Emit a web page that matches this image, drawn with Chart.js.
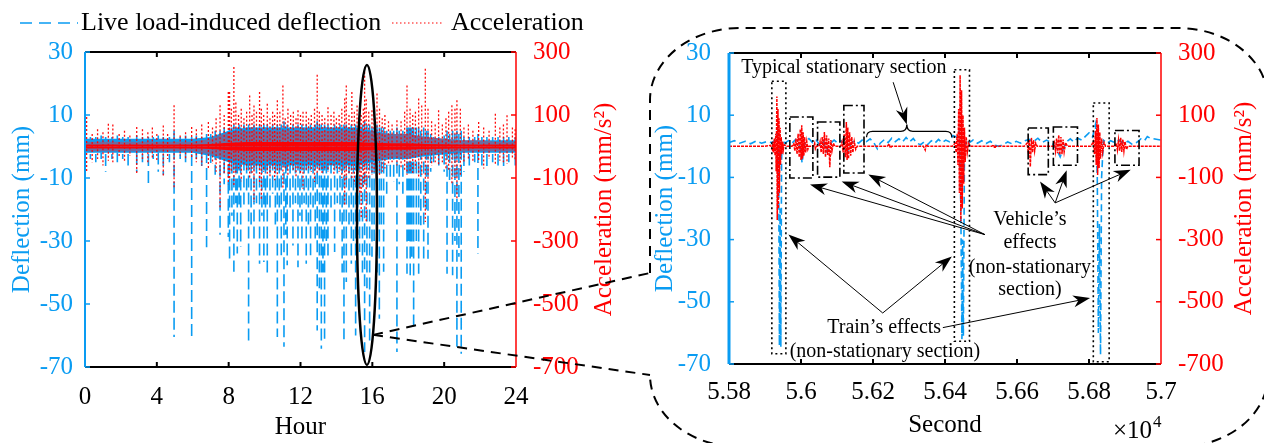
<!DOCTYPE html>
<html><head><meta charset="utf-8">
<script src="https://cdn.jsdelivr.net/npm/chart.js@4.4.1/dist/chart.umd.min.js"></script>
<style>
html,body{margin:0;padding:0;background:#fff;width:1264px;height:443px;overflow:hidden;}
#c1{position:absolute;left:0;top:0;}
#c2{position:absolute;left:640px;top:0;}
#ov{position:absolute;left:0;top:0;pointer-events:none;}
</style></head><body>
<canvas id="c1" width="640" height="443"></canvas>
<canvas id="c2" width="624" height="443"></canvas>
<canvas id="ov" width="1264" height="443"></canvas>
<script>
// ---------------- DATA ----------------
// Left panel (24 h record)
const leftXTicks = [0, 4, 8, 12, 16, 20, 24];
const leftXTickLabels = ['0', '4', '8', '12', '16', '20', '24'];
const deflTicks = [-70, -50, -30, -10, 10, 30];
const deflTickLabels = ['-70', '-50', '-30', '-10', '10', '30'];
const accTicks = [-700, -500, -300, -100, 100, 300];
const accTickLabels = ['-700', '-500', '-300', '-100', '100', '300'];

// deflection spikes (hour, peak-low mm, peak-high mm)
const lDefH  = [0.30,0.60,0.90,1.15,1.50,1.80,2.10,2.40,2.88,3.20,3.53,3.80,4.08,4.36,4.70,4.96,5.30,5.60,5.94,6.20,6.50,6.77,7.00,7.25,7.52,7.75,7.98,
  8.05,8.18,8.29,8.40,8.48,8.58,8.67,8.85,9.00,9.11,9.25,9.41,9.55,9.72,9.85,9.96,10.05,10.15,10.30,10.45,10.60,10.71,10.82,10.93,11.08,11.18,11.26,11.42,11.58,11.72,11.86,11.97,
  12.08,12.20,12.32,12.44,12.56,12.70,12.82,12.93,13.05,13.16,13.25,13.34,13.44,13.53,13.70,13.90,14.05,14.20,14.32,14.42,14.55,14.70,14.83,14.95,15.07,15.18,15.29,15.45,15.57,15.70,15.85,15.98,
  16.10,16.26,16.39,16.50,16.63,16.80,17.00,17.19,17.37,17.50,17.70,17.93,18.02,18.11,18.20,18.30,18.45,18.58,18.70,18.86,19.00,19.10,19.25,19.41,19.70,20.00,
  20.16,20.30,20.47,20.60,20.71,20.82,20.95,21.10,21.40,21.70,21.88,22.10,22.38,22.70,23.00,23.31,23.60,23.96];
const lDefLo = [-4,-5,-4,-8,-4,-5,-4,-6,-8,-5,-13,-4,-8,-9,-5,-60.5,-4,-5,-60.5,-4,-7.6,-32,-6,-9,-28,-12,-28.7,
  -36.7,-22,-39.8,-18,-34,-20,-31.9,-20,-15,-62,-25,-29.8,-18,-37.2,-22,-36.7,-20,-40.4,-20,-15,-25,-60.5,-20,-34.5,-63.6,-28,-37.7,-20,-31.4,-18,-38.3,-22,
  -30.3,-18,-37.2,-25,-34.5,-20,-30,-58.4,-45,-64.2,-40,-61,-30,-35.6,-20,-33.5,-18,-25,-40,-61.2,-43,-25,-37.2,-30,-60,-28,-33.5,-40,-65.2,-45,-63,-35,
  -30,-40.4,-54.7,-25,-39.8,-15,-10,-11.3,-65.2,-12,-15,-40.4,-30,-40.9,-35,-57.8,-30,-40.4,-25,-35.6,-20,-35.6,-8,-5,-6,-8,
  -40.4,-12,-40.9,-30,-63.6,-35,-65.8,-8,-6,-5,-34,-6,-7,-5,-6,-7,-5,-6];
const lDefHi = [3,3,3.5,3,3,3.5,3,3,3.5,3,3,3,3.5,3,3,5,3,3.5,3,3.5,3,4,4,5,5,6,5,
  6,6,7,6,6,7,6,7,6,7,6,7,6,7,6,7,6,7,6,7,6,7,6,7,8,6,7,6,7,6,7,6,
  7,6,7,6,7,6,7,8,7,7,6,7,6,7,6,7,6,7,6,7,7,6,7,6,7,6,7,7,8,7,7,6,
  6,7,6,6,6,5,5,5,6,5,5,6,6,6,6,6,6,6,5,6,5,5,4,3,3,3.5,
  5,4,5,4,5,4,5,3,3,3,4,3,3,3,3,3,3,3];

// acceleration spikes (hour, peak-high mm/s^2, peak-low mm/s^2)
const lAccH  = [0.09,0.40,0.70,1.00,1.30,1.55,1.90,2.20,2.50,2.88,3.20,3.50,3.75,4.00,4.36,4.60,4.96,5.30,5.60,5.94,6.20,6.50,6.87,7.10,7.30,7.52,7.75,7.98,
  8.05,8.15,8.29,8.40,8.55,8.70,8.85,9.00,9.17,9.30,9.41,9.55,9.72,9.82,9.95,10.15,10.30,10.45,10.56,10.71,10.85,11.02,11.15,11.30,11.45,11.60,11.75,11.86,
  12.00,12.14,12.32,12.45,12.60,12.78,12.93,13.05,13.20,13.35,13.53,13.70,13.86,14.00,14.15,14.30,14.46,14.55,14.70,14.86,15.00,15.15,15.30,15.38,15.50,15.57,15.66,15.80,15.98,
  16.10,16.26,16.40,16.55,16.70,16.90,17.10,17.37,17.60,17.80,17.93,18.10,18.25,18.40,18.58,18.75,18.95,19.10,19.30,19.50,19.69,19.90,
  20.10,20.25,20.43,20.60,20.71,20.90,21.10,21.35,21.60,21.92,22.20,22.50,22.85,23.10,23.30,23.50,23.80,23.95];
const lAccHi = [94,40,55,45,72,70,40,50,35,62,55,45,60,40,67,40,131,35,45,62,55,70,78,60,90,131,100,173,
  173,120,252,140,100,120,90,110,162,100,130,110,173,120,100,136,90,110,100,147,110,194,90,120,100,110,90,115,
  100,110,110,90,100,120,228,110,100,90,125,100,110,90,100,120,152,194,100,173,110,130,140,100,120,237,150,110,115,
  100,168,120,90,100,80,70,83,80,110,194,120,100,110,152,130,247,120,80,70,115,70,
  90,110,131,120,147,120,60,70,50,78,60,50,104,60,70,99,60,55];
const lAccLo = [-81,-50,-40,-60,-45,-50,-35,-45,-30,-86,-40,-50,-35,-45,-92,-40,-134,-30,-40,-40,-50,-60,-70,-55,-80,-197,-90,-120,
  -100,-80,-123,-90,-70,-110,-60,-80,-100,-90,-176,-70,-120,-166,-80,-90,-100,-70,-107,-90,-80,-134,-70,-90,-60,-80,-100,-70,
  -90,-134,-80,-70,-80,-113,-90,-80,-90,-70,-80,-60,-90,-70,-80,-100,-187,-110,-90,-100,-120,-90,-150,-229,-130,-120,-240,-100,-90,
  -80,-102,-90,-80,-70,-60,-50,-60,-70,-80,-90,-80,-90,-70,-100,-90,-240,-110,-60,-50,-60,-50,
  -70,-80,-120,-100,-166,-90,-50,-40,-45,-50,-70,-40,-60,-45,-50,-55,-40,-45];

// dense background envelopes, one value per hour (0..24)
const bandHours  = [0,1,2,3,4,5,6,7,8,9,10,11,12,13,14,15,16,17,18,19,20,21,22,23,24];
const defBandHi  = [2.5,2.5,2.5,2.5,2.5,2.5,2.5,3,5,6,6,6,6,6,6,6,5,4,4,3,2.5,2,2,2,2];
const defBandLo  = [-2,-2,-2,-2,-2,-2,-2,-3,-5,-6,-6,-6,-6,-6,-6,-6,-5,-4,-4,-3,-2.5,-2,-2,-2,-2];
const accCoreHi  = [6,6,6,6,6,6,6,8,12,14,14,14,14,14,14,14,12,10,10,8,7,6,6,6,6];
const accCoreLo  = [-6,-6,-6,-6,-6,-6,-6,-8,-12,-14,-14,-14,-14,-14,-14,-14,-12,-10,-10,-8,-7,-6,-6,-6,-6];
const accHaloHi  = [15,15,15,15,15,15,15,25,45,50,50,50,50,50,50,50,45,40,40,30,25,20,20,15,15];
const accHaloLo  = [-15,-15,-15,-15,-15,-15,-15,-25,-40,-45,-45,-45,-45,-45,-45,-45,-40,-35,-35,-25,-20,-15,-15,-15,-15];

// Right panel (seconds x 10^4)
const rightXTicks = [5.58, 5.60, 5.62, 5.64, 5.66, 5.68, 5.70];
const rightXTickLabels = ['5.58', '5.6', '5.62', '5.64', '5.66', '5.68', '5.7'];

const rDefX = [5.5800,5.5815,5.5830,5.5845,5.5860,5.5875,5.5890,5.5905,5.5918,5.5930,5.5935,5.5938,5.5940,5.5942,5.5944,5.5946,5.5948,5.5955,5.5965,5.5975,5.5985,5.5995,5.6000,5.6003,5.6007,5.6012,
  5.6022,5.6032,5.6042,5.6052,5.6062,5.6070,5.6080,5.6092,5.6102,5.6112,5.6122,5.6130,5.6138,5.6148,5.6160,5.6172,5.6182,5.6192,5.6202,5.6212,5.6220,5.6232,5.6242,5.6252,5.6262,5.6272,5.6282,5.6292,5.6302,5.6312,5.6322,5.6332,5.6342,5.6352,5.6362,5.6372,5.6382,5.6392,5.6402,5.6412,5.6422,5.6432,5.6440,5.6444,5.6447,5.6449,5.6451,5.6454,5.6458,
  5.6468,5.6478,5.6490,5.6502,5.6514,5.6526,5.6538,5.6550,5.6562,5.6574,5.6586,5.6598,5.6610,5.6622,5.6634,5.6646,5.6658,5.6670,5.6682,5.6692,5.6702,5.6712,5.6720,5.6728,5.6738,5.6748,5.6758,5.6768,5.6780,5.6790,5.6800,5.6810,5.6818,5.6823,5.6826,5.6829,5.6832,5.6835,5.6840,
  5.6850,5.6860,5.6872,5.6884,5.6896,5.6908,5.6920,5.6932,5.6944,5.6954,5.6962,5.6970,5.7000];
const rDefY = [1.2,1.8,1.0,1.6,0.8,1.7,1.0,1.5,1.2,2.0,5.0,-3,-64,-20,-64.5,-4,2,1.0,1.8,1.0,2.2,0.5,-2,-5.4,-1,1.5,
  2.5,1.2,2.0,0.5,1.8,-1.7,0.8,2.0,1.0,1.8,0.5,-2.0,0.8,1.8,1.0,2.2,1.5,2.4,1.2,-0.8,1.0,2.2,1.2,2.6,1.5,2.4,1.4,2.8,1.5,2.5,1.0,0.5,1.4,0.6,1.8,1.0,2.2,1.2,2.0,1.5,3.5,3.0,5.0,-20,-62,-30,-61,-3,2.0,
  1.2,2.0,1.0,1.8,0.9,1.6,0.4,0.0,0.6,1.4,0.8,1.6,1.0,1.8,2.2,1.5,2.6,1.2,2.0,1.4,0.5,-1.5,-3.4,-1.0,1.5,2.4,1.4,2.6,2.0,3.2,4.3,3.0,7.0,-10,-60,-25,-67,-10,2.0,
  1.0,1.8,1.2,2.0,0.8,1.6,0.6,1.2,2.4,1.8,3.1,2.6,2.0];

const rAccX = [5.5800,5.5900,5.5915,5.5920,5.5922,5.5924,5.5926,5.5928,5.5930,5.5931,5.5933,5.5934,5.5936,5.5937,5.5939,5.5940,5.5942,5.5943,5.5945,5.5947,5.5949,5.5951,5.5953,5.5960,
  5.5975,5.5980,5.5983,5.5986,5.5989,5.5992,5.5995,5.5998,5.6000,5.6002,5.6004,5.6006,5.6008,5.6010,5.6013,5.6016,5.6019,5.6022,
  5.6035,5.6038,5.6040,5.6043,5.6050,5.6053,5.6056,5.6059,5.6062,5.6065,5.6068,5.6071,5.6074,5.6077,5.6080,5.6083,5.6086,5.6090,5.6094,
  5.6110,5.6114,5.6117,5.6120,5.6123,5.6126,5.6128,5.6130,5.6132,5.6135,5.6138,5.6141,5.6144,5.6148,5.6152,5.6156,
  5.6240,5.6245,5.6248,5.6252,5.6340,5.6345,5.6348,5.6352,
  5.6420,5.6428,5.6431,5.6434,5.6436,5.6438,5.6440,5.6442,5.6444,5.6446,5.6448,5.6450,5.6452,5.6454,5.6456,5.6459,5.6462,5.6466,5.6470,
  5.6530,5.6535,5.6538,5.6541,
  5.6620,5.6628,5.6631,5.6634,5.6637,5.6640,5.6643,5.6646,5.6649,5.6652,5.6656,
  5.6700,5.6704,5.6707,5.6710,5.6713,5.6716,5.6719,5.6722,5.6725,5.6728,5.6731,5.6735,5.6740,
  5.6805,5.6812,5.6815,5.6818,5.6820,5.6822,5.6824,5.6826,5.6828,5.6830,5.6832,5.6835,5.6838,5.6842,5.6846,
  5.6872,5.6876,5.6879,5.6882,5.6885,5.6888,5.6891,5.6894,5.6897,5.6900,5.6904,5.6908,5.7000];
const rAccY = [0,0,3,-10,15,-20,25,-30,40,-80,160,-237,120,-200,90,-150,60,-60,30,-25,15,-10,5,0,
  0,8,-15,25,-25,40,-35,55,-44,68,-40,45,-30,30,-20,15,-10,0,
  0,10,-8,0,0,15,-20,30,-25,46,-35,35,-28,25,-67,20,-15,10,0,
  0,15,-20,40,-35,78,-44,60,-40,45,-30,30,-20,15,-10,0,
  0,8,-5,0,0,-12,6,0,
  0,10,-20,40,-60,120,-150,229,-241,180,-200,100,-120,60,-50,30,-20,10,0,
  0,5,-6,0,
  0,10,-15,20,-66,27,-20,20,-15,10,0,
  0,12,-15,25,-22,36,-28,30,-25,22,-18,12,0,
  0,15,-25,50,-60,91,-92,70,-70,45,-40,25,-20,12,0,
  0,10,-12,20,-15,27,-18,22,-15,15,-10,0,0];

// annotation geometry (data units: x10^4 s, mm)
const trainBoxes = [[5.5919,5.5958,20.9,-66.7],[5.6426,5.6468,24.6,-62.7],[5.6812,5.6856,13.9,-69.3]];
const vehicleBoxes = [[5.5969,5.6033,9.4,-10.2],[5.6046,5.6108,7.8,-9.9],[5.6119,5.6175,13.1,-8.6],
                      [5.6631,5.6687,5.9,-9.1],[5.6701,5.6768,6.2,-6.1],[5.6872,5.6939,5.1,-6.1]];
const arrowList = [
  [5.6256,20.6, 5.6294,7.0],
  [5.6511,-28.4, 5.6025,-12.3],[5.6511,-28.4, 5.6113,-11.3],[5.6511,-28.4, 5.6187,-9.1],
  [5.6706,-18.2, 5.6664,-11.3],[5.6706,-18.2, 5.6738,-7.7],[5.6706,-18.2, 5.6916,-7.5],
  [5.6227,-53.6, 5.5965,-28.4],[5.6227,-53.6, 5.6419,-35.4],[5.6394,-58.3, 5.6803,-48.8]
];
const braceSpan = [5.6182, 5.6419, 5.6294]; // start, end, tip
const textList = [
  ['Typical stationary section', 5.6119, 25.3],
  ['Train\u2019s effects', 5.6231, -58.3],
  ['(non-stationary section)', 5.6233, -66.0],
  ['Vehicle\u2019s', 5.6636, -23.6],
  ['effects', 5.6636, -31.0],
  ['(non-stationary', 5.6636, -39.0],
  ['section)', 5.6636, -46.1]
];
const zoomEllipse = [15.70, -21.75, 0.557, 47.6]; // centre hour, centre mm, half-width h, half-height mm
const zoomFrom = [16.04, -59.8];

// ---------------- STYLE / HELPERS ----------------
const BLUE = '#0A9CF2', RED = '#FF0000', FONT = '"Liberation Serif", "Times New Roman", serif';
Chart.defaults.font.family = FONT;
Chart.defaults.color = '#000';

function spikes(xs, a, b) {
  const pts = [];
  for (let i = 0; i < xs.length; i++) pts.push({x: xs[i], y: a[i]}, {x: xs[i], y: b[i]}, {x: xs[i], y: null});
  return pts;
}
function series(xs, ys) { return xs.map((x, i) => ({x: x, y: ys[i]})); }
function seg(c, x1, y1, x2, y2) { c.beginPath(); c.moveTo(x1, y1); c.lineTo(x2, y2); c.stroke(); }
function arrow(c, x1, y1, x2, y2) {
  const len = 17, w = 6;
  const ang = Math.atan2(y2 - y1, x2 - x1), co = Math.cos(ang), si = Math.sin(ang);
  const bx = x2 - len * co, by = y2 - len * si;
  seg(c, x1, y1, x2 - 8 * co, y2 - 8 * si);
  c.beginPath();
  c.moveTo(x2, y2);
  c.lineTo(bx - w * si, by + w * co);
  c.lineTo(x2 - len * 0.7 * co, y2 - len * 0.7 * si);
  c.lineTo(bx + w * si, by - w * co);
  c.closePath(); c.fill();
}
function band(xs, ys, axis, color, order) {
  return {data: series(xs, ys), yAxisID: axis, borderColor: 'rgba(0,0,0,0)', borderWidth: 0, backgroundColor: color, fill: 'origin', order: order};
}

const framePlugin = {
  id: 'frame',
  afterDraw(chart, args, o) {
    const {ctx, chartArea: a, scales: s} = chart;
    ctx.save();
    ctx.setLineDash([]);
    ctx.strokeStyle = '#000'; ctx.lineWidth = 2;
    seg(ctx, a.left, a.top, a.right, a.top);
    seg(ctx, a.left, a.bottom, a.right, a.bottom);
    s.x.ticks.forEach(t => {
      const p = s.x.getPixelForValue(t.value);
      if (p > a.left + 2 && p < a.right - 2) { seg(ctx, p, a.bottom, p, a.bottom - 5); seg(ctx, p, a.top, p, a.top + 5); }
    });
    ctx.strokeStyle = BLUE; ctx.lineWidth = o.yW;
    seg(ctx, a.left, a.top, a.left, a.bottom);
    ctx.lineWidth = 1.5;
    s.y.ticks.forEach(t => { const p = s.y.getPixelForValue(t.value); seg(ctx, a.left, p, a.left + 5, p); });
    ctx.strokeStyle = RED; ctx.lineWidth = 1.5;
    seg(ctx, a.right, a.top, a.right, a.bottom);
    s.y2.ticks.forEach(t => { const p = s.y2.getPixelForValue(t.value); seg(ctx, a.right, p, a.right - 5, p); });
    ctx.fillStyle = RED; ctx.font = '25px ' + FONT; ctx.textAlign = 'center'; ctx.textBaseline = 'middle';
    ctx.translate(o.rtX, (a.top + a.bottom) / 2); ctx.rotate(-Math.PI / 2);
    ctx.fillText('Acceleration (mm/s\u00B2)', 0, 0);
    ctx.restore();
  }
};

function scalesFor(xMin, xMax, xTicks, xLabels, xTitle, xH, xPad, xTitlePad, yLW, yLPad, yLTitlePad, yRW, yRPad) {
  return {
    x: {
      type: 'linear', min: xMin, max: xMax, position: 'bottom',
      afterBuildTicks: sc => { sc.ticks = xTicks.map(v => ({value: v})); },
      afterFit: sc => { sc.height = xH; },
      grid: {display: false}, border: {display: false},
      ticks: {autoSkip: false, maxRotation: 0, padding: xPad, color: '#000', font: {size: 25, family: FONT}, callback: (v, i) => xLabels[i]},
      title: {display: true, text: xTitle, color: '#000', font: {size: 25, family: FONT}, padding: {top: 0, bottom: xTitlePad}}
    },
    y: {
      type: 'linear', min: -70, max: 30, position: 'left',
      afterBuildTicks: sc => { sc.ticks = deflTicks.map(v => ({value: v})); },
      afterFit: sc => { sc.width = yLW; },
      grid: {display: false}, border: {display: false},
      ticks: {padding: yLPad, color: BLUE, font: {size: 25, family: FONT}, callback: (v, i) => deflTickLabels[i]},
      title: {display: true, text: 'Deflection (mm)', color: BLUE, font: {size: 25, family: FONT}, padding: {top: yLTitlePad, bottom: 0}}
    },
    y2: {
      type: 'linear', min: -700, max: 300, position: 'right',
      afterBuildTicks: sc => { sc.ticks = accTicks.map(v => ({value: v})); },
      afterFit: sc => { sc.width = yRW; },
      grid: {display: false}, border: {display: false},
      ticks: {padding: yRPad, color: RED, font: {size: 25, family: FONT}, callback: (v, i) => accTickLabels[i]}
    }
  };
}

const common = {
  responsive: false, animation: false, devicePixelRatio: 1, events: [],
  elements: {point: {radius: 0}, line: {tension: 0}},
  plugins: {legend: {display: false}, tooltip: {enabled: false}}
};

// ---------------- LEFT CHART ----------------
const ellipsePlugin = {
  id: 'ellipse',
  afterDatasetsDraw(chart) {
    const {ctx, scales: {x, y}} = chart;
    const cx = x.getPixelForValue(zoomEllipse[0]), cy = y.getPixelForValue(zoomEllipse[1]);
    const rx = x.getPixelForValue(zoomEllipse[0] + zoomEllipse[2]) - cx;
    const ry = cy - y.getPixelForValue(zoomEllipse[1] + zoomEllipse[3]);
    ctx.save(); ctx.setLineDash([]); ctx.strokeStyle = '#000'; ctx.lineWidth = 2.5;
    ctx.beginPath(); ctx.ellipse(cx, cy, rx, ry, 0, 0, Math.PI * 2); ctx.stroke(); ctx.restore();
  }
};

const chart1 = new Chart(document.getElementById('c1'), {
  type: 'line',
  data: {datasets: [
    {data: spikes(lAccH, lAccHi, lAccLo), yAxisID: 'y2', borderColor: 'rgba(255,0,0,0.95)', borderWidth: 1.3, borderDash: [2, 2], fill: false, order: 0},
    band(bandHours, accCoreHi, 'y2', 'rgba(255,0,0,0.95)', 1),
    band(bandHours, accCoreLo, 'y2', 'rgba(255,0,0,0.95)', 1),
    band(bandHours, accHaloHi, 'y2', 'rgba(255,40,40,0.4)', 2),
    band(bandHours, accHaloLo, 'y2', 'rgba(255,40,40,0.4)', 2),
    {data: spikes(lDefH, lDefHi, lDefLo), yAxisID: 'y', borderColor: BLUE, borderWidth: 1.6, borderDash: [12, 5], fill: false, order: 3},
    band(bandHours, defBandHi, 'y', BLUE, 4),
    band(bandHours, defBandLo, 'y', BLUE, 4)
  ]},
  options: Object.assign({}, common, {
    layout: {padding: {top: 52, bottom: 0, left: 0, right: 0}},
    scales: scalesFor(0, 24, leftXTicks, leftXTickLabels, 'Hour', 76, 7, 1, 85, 4, 7, 124, 9),
    plugins: Object.assign({}, common.plugins, {frame: {yW: 2, rtX: 604}})
  }),
  plugins: [ellipsePlugin, framePlugin]
});

// ---------------- RIGHT CHART ----------------
const annotPlugin = {
  id: 'annot',
  afterDatasetsDraw(chart) {
    const {ctx, scales: {x, y}} = chart;
    const X = v => x.getPixelForValue(v), Y = v => y.getPixelForValue(v);
    ctx.save();
    ctx.strokeStyle = '#000'; ctx.fillStyle = '#000';
    ctx.lineWidth = 1.6; ctx.setLineDash([2, 3]);
    trainBoxes.forEach(b => ctx.strokeRect(X(b[0]), Y(b[2]), X(b[1]) - X(b[0]), Y(b[3]) - Y(b[2])));
    ctx.setLineDash([9, 3, 2, 3]);
    vehicleBoxes.forEach(b => ctx.strokeRect(X(b[0]), Y(b[2]), X(b[1]) - X(b[0]), Y(b[3]) - Y(b[2])));
    ctx.setLineDash([]);
    const x1 = X(braceSpan[0]), x2 = X(braceSpan[1]), xm = X(braceSpan[2]);
    const yb = Y(2.9), yc = Y(4.8), yt = Y(7.0);
    ctx.lineWidth = 1.3;
    ctx.beginPath();
    ctx.moveTo(x1, yb); ctx.quadraticCurveTo(x1, yc, x1 + 6, yc); ctx.lineTo(xm - 6, yc);
    ctx.quadraticCurveTo(xm, yc, xm, yt); ctx.quadraticCurveTo(xm, yc, xm + 6, yc);
    ctx.lineTo(x2 - 6, yc); ctx.quadraticCurveTo(x2, yc, x2, yb); ctx.stroke();
    ctx.lineWidth = 1;
    arrowList.forEach(a => arrow(ctx, X(a[0]), Y(a[1]), X(a[2]), Y(a[3])));
    ctx.font = '20px ' + FONT; ctx.textAlign = 'center'; ctx.textBaseline = 'middle';
    textList.forEach(t => ctx.fillText(t[0], X(t[1]), Y(t[2])));
    ctx.restore();
  },
  afterDraw(chart) {
    const {ctx, chartArea: a} = chart;
    ctx.save(); ctx.fillStyle = '#000'; ctx.textBaseline = 'alphabetic';
    ctx.font = '25px ' + FONT; ctx.textAlign = 'right';
    ctx.fillText('\u00D710', a.right - 9, 438);
    ctx.font = '17px ' + FONT; ctx.textAlign = 'left';
    ctx.fillText('4', a.right - 8, 427);
    ctx.restore();
  }
};

const chart2 = new Chart(document.getElementById('c2'), {
  type: 'line',
  data: {datasets: [
    {data: series(rAccX, rAccY), yAxisID: 'y2', borderColor: RED, borderWidth: 1.5, borderDash: [3, 1], fill: false, order: 0},
    {data: series(rDefX, rDefY), yAxisID: 'y', borderColor: BLUE, borderWidth: 1.6, borderDash: [7, 4], fill: false, order: 1}
  ]},
  options: Object.assign({}, common, {
    layout: {padding: {top: 53, bottom: 0, left: 0, right: 0}},
    scales: scalesFor(5.58, 5.70, rightXTicks, rightXTickLabels, 'Second', 79, 5, 3, 89, 10, 10, 103, 9),
    plugins: Object.assign({}, common.plugins, {frame: {yW: 3, rtX: 604}})
  }),
  plugins: [annotPlugin, framePlugin]
});

// ---------------- OVERLAY (legend, zoom callout) ----------------
(function () {
  const c = document.getElementById('ov').getContext('2d');
  c.strokeStyle = BLUE; c.lineWidth = 1.6; c.setLineDash([12, 7]);
  seg(c, 20, 23, 78, 23);
  c.fillStyle = '#000'; c.font = '26px ' + FONT; c.textBaseline = 'middle'; c.textAlign = 'left';
  c.fillText('Live load-induced deflection', 81, 23);
  c.strokeStyle = RED; c.lineWidth = 1.2; c.setLineDash([1.5, 2.5]);
  seg(c, 392, 23, 444, 23);
  c.fillText('Acceleration', 451, 23);

  const L = 650, T = 28, R = 1268, B = 447, rx = 90, ry = 72, gapTop = 273;
  c.strokeStyle = '#000'; c.lineWidth = 2; c.setLineDash([10, 7]);
  c.beginPath();
  c.moveTo(L, gapTop); c.lineTo(L, T + ry);
  c.ellipse(L + rx, T + ry, rx, ry, 0, Math.PI, 1.5 * Math.PI);
  c.lineTo(R - rx, T);
  c.ellipse(R - rx, T + ry, rx, ry, 0, 1.5 * Math.PI, 2 * Math.PI);
  c.lineTo(R, B - ry);
  c.ellipse(R - rx, B - ry, rx, ry, 0, 0, 0.5 * Math.PI);
  c.lineTo(L + rx, B);
  c.ellipse(L + rx, B - ry, rx, ry, 0, 0.5 * Math.PI, Math.PI);
  c.stroke();
  const sx = chart1.scales.x.getPixelForValue(zoomFrom[0]);
  const sy = chart1.scales.y.getPixelForValue(zoomFrom[1]);
  seg(c, sx, sy, L, gapTop);
  seg(c, sx, sy, L, B - ry);
})();
</script></body></html>
